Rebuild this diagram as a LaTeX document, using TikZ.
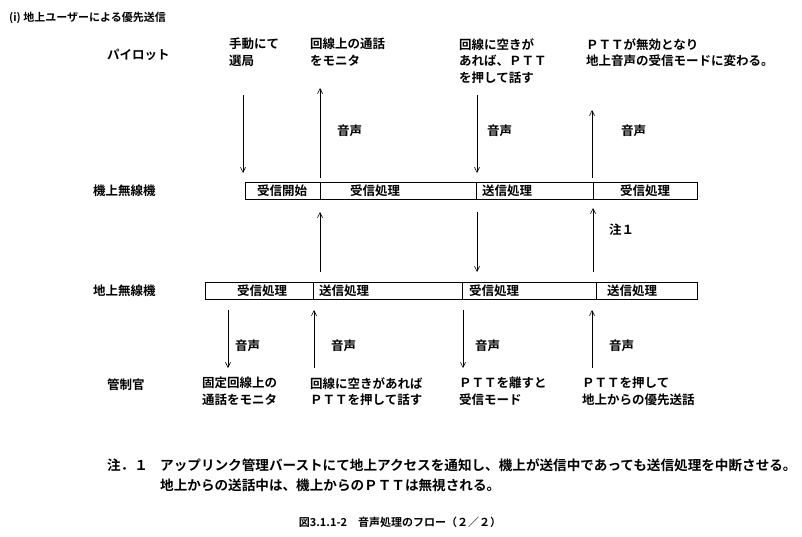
\documentclass[tikz,border=0pt]{standalone}
\usepackage{fontspec}
\setmainfont{Noto Sans CJK JP}[BoldFont={Noto Sans CJK JP Bold}]
\usetikzlibrary{arrows.meta, positioning}

\begin{document}
\begin{tikzpicture}[x=1pt, y=-1pt]

% styles
\tikzset{every node/.style={font=\bfseries\fontsize{12.5}{16.5}\selectfont, inner sep=1pt}}
\tikzset{lbl/.style={anchor=west, align=left}}
\tikzset{notetext/.style={lbl, font=\bfseries\fontsize{13.6}{16.5}\selectfont}}
\tikzset{cell/.style={anchor=center}}
\tikzset{flow/.style={draw, line width=0.6pt, -{Straight Barb[length=5pt, width=5pt]}}}
\tikzset{bar/.style={draw, line width=0.6pt}}

\useasboundingbox (0,0) rectangle (802,536);

\node[lbl, font=\bfseries\fontsize{11}{13}\selectfont] (title) at (8,18) {(i) 地上ユーザーによる優先送信};

% row labels
\node[lbl] (pilot) at (106,55) {パイロット};
\node[lbl] (air) at (92,191) {機上無線機};
\node[lbl] (gnd) at (92,291) {地上無線機};
\node[lbl] (atc) at (106,385) {管制官};

% airborne bar
\draw[bar] (245,182) rectangle (697,199);
\foreach \x in {320,476,593} { \draw[bar] (\x,182) -- (\x,199); }
\node[cell] (a1) at (282,191) {受信開始};
\node[cell] (a2) at (375,191) {受信処理};
\node[cell] (a3) at (507,191) {送信処理};
\node[cell] (a4) at (645,191) {受信処理};

% ground bar
\draw[bar] (205,282) rectangle (697,299);
\foreach \x in {313,462,596} { \draw[bar] (\x,282) -- (\x,299); }
\node[cell] (g1) at (262,291) {受信処理};
\node[cell] (g2) at (344,291) {送信処理};
\node[cell] (g3) at (494,291) {受信処理};
\node[cell] (g4) at (632,291) {送信処理};

% pilot texts
\node[lbl, anchor=north west] (p1) at (228,37) {手動にて\\選局};
\node[lbl, anchor=north west] (p2) at (309,37) {回線上の通話\\をモニタ};
\node[lbl, anchor=north west] (p3) at (458,37) {回線に空きが\\あれば、ＰＴＴ\\を押して話す};
\node[lbl, anchor=north west] (p4) at (585,37) {ＰＴＴが無効となり\\地上音声の受信モードに変わる。};

% controller texts
\node[lbl, anchor=north west] (c1) at (201,376) {固定回線上の\\通話をモニタ};
\node[lbl, anchor=north west] (c2) at (309,376) {回線に空きがあれば\\ＰＴＴを押して話す};
\node[lbl, anchor=north west] (c3) at (458,376) {ＰＴＴを離すと\\受信モード};
\node[lbl, anchor=north west] (c4) at (581,376) {ＰＴＴを押して\\地上からの優先送話};

% pilot <-> airborne
\coordinate (t1) at (243,95); \coordinate (t1e) at (243,173);
\coordinate (t2) at (320,178); \coordinate (t2e) at (320,88);
\coordinate (t3) at (477,95); \coordinate (t3e) at (477,173);
\coordinate (t4) at (592,178); \coordinate (t4e) at (592,110);
\draw[flow] (t1) -- (t1e);
\draw[flow] (t2) -- (t2e);
\draw[flow] (t3) -- (t3e);
\draw[flow] (t4) -- (t4e);
\node[lbl] (v1) at (336,131) {音声};
\node[lbl] (v2) at (486,131) {音声};
\node[lbl] (v3) at (620,131) {音声};

% airborne <-> ground
\coordinate (m1) at (320,272); \coordinate (m1e) at (320,212);
\coordinate (m2) at (477,212); \coordinate (m2e) at (477,272);
\coordinate (m3) at (593,272); \coordinate (m3e) at (593,208);
\draw[flow] (m1) -- (m1e);
\draw[flow] (m2) -- (m2e);
\draw[flow] (m3) -- (m3e);
\node[lbl] (n1) at (608,230) {注１};

% ground <-> controller
\coordinate (b1) at (228,310); \coordinate (b1e) at (228,368);
\coordinate (b2) at (314,368); \coordinate (b2e) at (314,310);
\coordinate (b3) at (463,310); \coordinate (b3e) at (463,368);
\coordinate (b4) at (592,368); \coordinate (b4e) at (592,310);
\draw[flow] (b1) -- (b1e);
\draw[flow] (b2) -- (b2e);
\draw[flow] (b3) -- (b3e);
\draw[flow] (b4) -- (b4e);
\node[lbl] (w1) at (234,346) {音声};
\node[lbl] (w2) at (330,346) {音声};
\node[lbl] (w3) at (474,346) {音声};
\node[lbl] (w4) at (608,346) {音声};

% note and caption
\node[notetext] (note) at (106,465) {注．１};
\node[notetext] (note1) at (159,465) {アップリンク管理バーストにて地上アクセスを通知し、機上が送信中であっても送信処理を中断させる。};
\node[notetext] (note2) at (159,485) {地上からの送話中は、機上からのＰＴＴは無視される。};
\node[font=\bfseries\fontsize{11}{13}\selectfont] (cap) at (400,522) {図3.1.1-2　音声処理のフロー（２／２）};

\end{tikzpicture}
\end{document}
